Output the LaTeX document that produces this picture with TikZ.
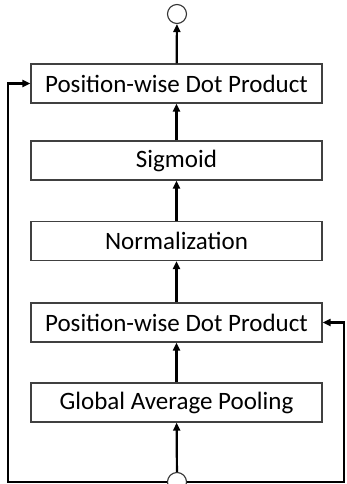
\documentclass[tikz,border=0pt]{standalone}
\usepackage{fontspec}
\setmainfont{Carlito}
\usetikzlibrary{arrows.meta, positioning, calc}

\begin{document}
\begin{tikzpicture}[
    x=1pt, y=-1pt,
    box/.style={rectangle, draw=black!75, line width=1.3pt, minimum width=291pt, minimum height=39pt, inner sep=0pt, font=\fontsize{25}{28}\selectfont},
    flow/.style={-{Triangle[length=8pt,width=7pt]}, line width=2.2pt},
    port/.style={circle, draw=black!80, line width=1.1pt, minimum size=19pt, inner sep=0pt, fill=white}
]
    \useasboundingbox (0,0) rectangle (346,484);

    % main stack
    \node[box] (gap)  at (176.5, 402.5) {Global Average Pooling};
    \node[box] (dot2) at (176.5, 322.5) {Position-wise Dot Product};
    \node[box] (norm) at (176.5, 241)   {Normalization};
    \node[box] (sig)  at (176.5, 160.5) {Sigmoid};
    \node[box] (dot1) at (176.5, 83.5)  {Position-wise Dot Product};

    % input and output
    \node[port] (inp) at (177, 482) {};
    \node[port] (out) at (177, 14)  {};

    \coordinate (lcorner) at (8, 482);
    \coordinate (rcorner) at (344, 482);

    \draw[flow] (inp) -- (gap);
    \draw[flow] (gap) -- (dot2);
    \draw[flow] (dot2) -- (norm);
    \draw[flow] (norm) -- (sig);
    \draw[flow] (sig) -- (dot1);
    \draw[flow] (dot1) -- (out);

    % skip connections
    \draw[flow] (inp.west) -- (lcorner) |- (dot1.west);
    \draw[flow] (inp.east) -- (rcorner) |- (dot2.east);
\end{tikzpicture}
\end{document}
